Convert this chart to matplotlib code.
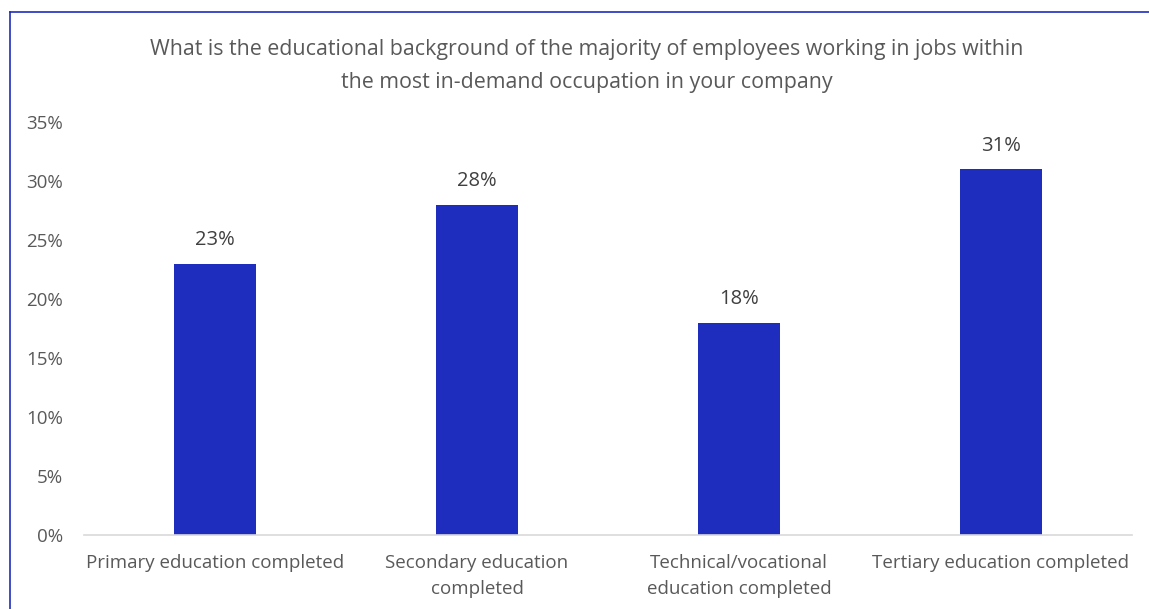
import matplotlib.pyplot as plt
from matplotlib.lines import Line2D
from matplotlib.ticker import PercentFormatter

categories = ["Primary education completed", "Secondary education\ncompleted",
              "Technical/vocational\neducation completed", "Tertiary education completed"]
values = [23, 28, 18, 31]
yticks = [0, 5, 10, 15, 20, 25, 30, 35]

plt.rcParams["font.family"] = ["Open Sans", "DejaVu Sans"]
text_color = "#595959"
bar_color = "#1F2DBE"

fig = plt.figure(figsize=(11.49, 6.09), dpi=100)
W, H = 1149, 609
ax = fig.add_axes([84 / W, 1 - 535 / H, (1132 - 84) / W, (535 - 122) / H])

x = range(len(categories))
bars = ax.bar(x, values, width=0.315, color=bar_color, zorder=2)
for xi, v in zip(x, values):
    ax.text(xi, v + 1.15, f"{v}%", ha="center", va="bottom", fontsize=14.5, color="#404040")

ax.set_xlim(-0.5, len(categories) - 0.5)
ax.set_ylim(0, 35)
ax.set_yticks(yticks)
ax.yaxis.set_major_formatter(PercentFormatter(decimals=0))
ax.set_xticks(list(x))
ax.set_xticklabels(categories, linespacing=1.55)
ax.tick_params(axis="both", length=0, labelsize=13.5, colors=text_color)
ax.tick_params(axis="x", pad=14)
ax.tick_params(axis="y", pad=15)
for s in ["top", "right", "left"]:
    ax.spines[s].set_visible(False)
ax.spines["bottom"].set_color("#D9D9D9")
ax.spines["bottom"].set_linewidth(1.2)

fig.text(587 / W, 1 - 66 / H,
         "What is the educational background of the majority of employees working in jobs within\n"
         "the most in-demand occupation in your company",
         ha="center", va="center", fontsize=15.4, color=text_color, linespacing=1.8)

# frame around the chart (only top and left visible)
fig.add_artist(Line2D([10 / W, 1.0], [1 - 12 / H, 1 - 12 / H], color=bar_color, lw=1.2,
                      transform=fig.transFigure))
fig.add_artist(Line2D([10 / W, 10 / W], [0, 1 - 12 / H], color=bar_color, lw=1.2,
                      transform=fig.transFigure))

fig.savefig("out.png", dpi=100)
